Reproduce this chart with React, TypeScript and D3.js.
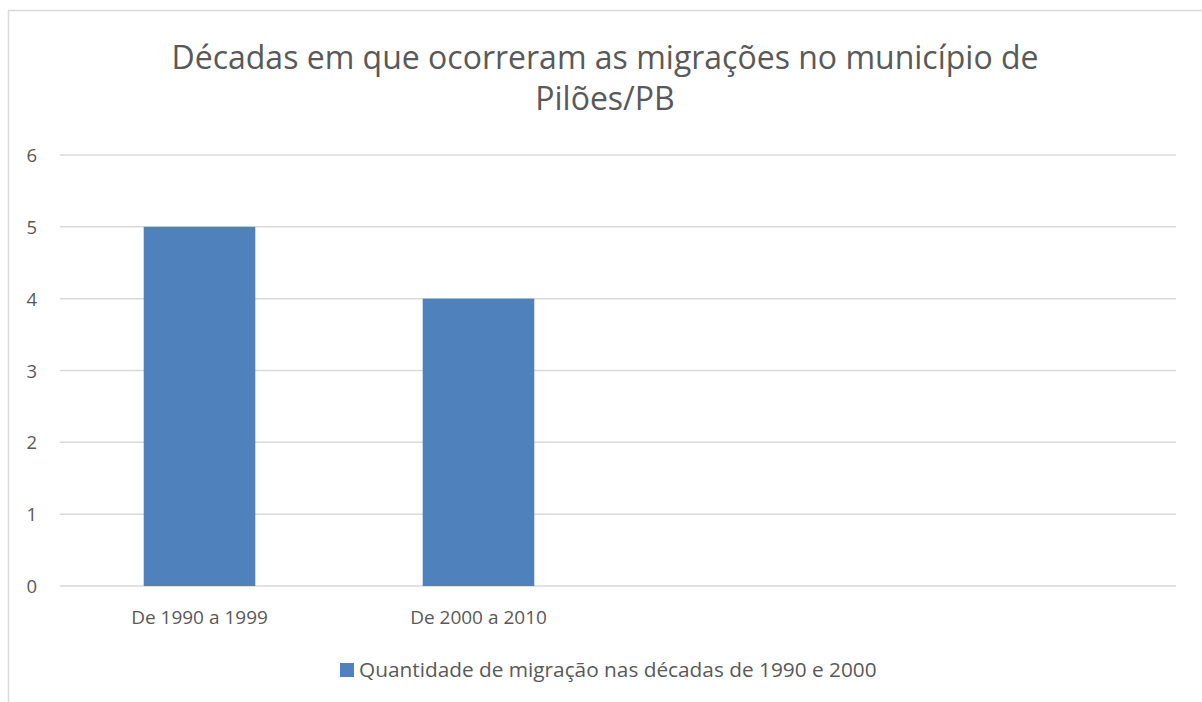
import React, {useEffect, useRef} from 'react';
import * as d3 from 'd3';

// data
const categories = ['De 1990 a 1999', 'De 2000 a 2010', 'c3', 'c4'];
const categoryLabels = ['De 1990 a 1999', 'De 2000 a 2010', '', ''];
const migrationValues = [5, 4, null, null];
const yTicks = [0, 1, 2, 3, 4, 5, 6];
const titleLines = ['Décadas em que ocorreram as migrações no município de', 'Pilões/PB'];
const seriesName = 'Quantidade de migração nas décadas de 1990 e 2000';

const W = 1202;
const H = 702;
const FONT = '"Open Sans", "Liberation Sans", sans-serif';

export default function App() {
    const ref = useRef<SVGSVGElement>(null);

    useEffect(() => {
        const svg = d3.select(ref.current);
        svg.selectAll('*').remove();

        // frame
        svg.append('rect')
            .attr('x', 8.5).attr('y', 10.5)
            .attr('width', 1220).attr('height', 720)
            .attr('fill', '#fff')
            .attr('stroke', '#d9d9d9')
            .attr('stroke-width', 1.5);

        const left = 60, right = 1176, top = 155, bottom = 586;

        const x = d3.scaleBand<string>()
            .domain(categories)
            .range([left, right])
            .paddingInner(0.6)
            .paddingOuter(0.3);
        const y = d3.scaleLinear().domain([0, 6]).range([bottom, top]);

        // title
        svg.append('g').selectAll('text')
            .data(titleLines)
            .enter().append('text')
            .attr('x', 605)
            .attr('y', (d, i) => 69 + i * 41)
            .attr('text-anchor', 'middle')
            .attr('font-family', FONT)
            .attr('font-size', 32)
            .attr('fill', '#595959')
            .text(d => d);

        // grid
        svg.append('g').selectAll('line')
            .data(yTicks)
            .enter().append('line')
            .attr('x1', left).attr('x2', right)
            .attr('y1', d => y(d)).attr('y2', d => y(d))
            .attr('stroke', '#d9d9d9')
            .attr('stroke-width', 1.5);

        // y labels
        svg.append('g').selectAll('text')
            .data(yTicks)
            .enter().append('text')
            .attr('x', 37)
            .attr('y', d => y(d) + 7)
            .attr('text-anchor', 'end')
            .attr('font-family', FONT)
            .attr('font-size', 18.5)
            .attr('fill', '#595959')
            .text(d => d);

        // bars
        const bw = x.bandwidth();
        svg.append('g').selectAll('rect')
            .data(categories.map((c, i) => ({c, v: migrationValues[i]})).filter(d => d.v !== null))
            .enter().append('rect')
            .attr('x', d => x(d.c)!)
            .attr('y', d => y(d.v as number))
            .attr('width', bw)
            .attr('height', d => bottom - y(d.v as number))
            .attr('fill', '#4f81bd');

        // category labels
        svg.append('g').selectAll('text')
            .data(categories)
            .enter().append('text')
            .attr('x', d => x(d)! + bw / 2)
            .attr('y', 624)
            .attr('text-anchor', 'middle')
            .attr('font-family', FONT)
            .attr('font-size', 19)
            .attr('fill', '#595959')
            .text((d, i) => categoryLabels[i]);

        // legend
        svg.append('rect')
            .attr('x', 340).attr('y', 663)
            .attr('width', 14).attr('height', 14)
            .attr('fill', '#4f81bd');
        svg.append('text')
            .attr('x', 359).attr('y', 677)
            .attr('font-family', FONT)
            .attr('font-size', 20.8)
            .attr('fill', '#595959')
            .text(seriesName);
    }, []);

    return (
        <svg ref={ref} width={W} height={H}
            style={{position: 'absolute', left: 0, top: 0, background: '#fff'}} />
    );
}
